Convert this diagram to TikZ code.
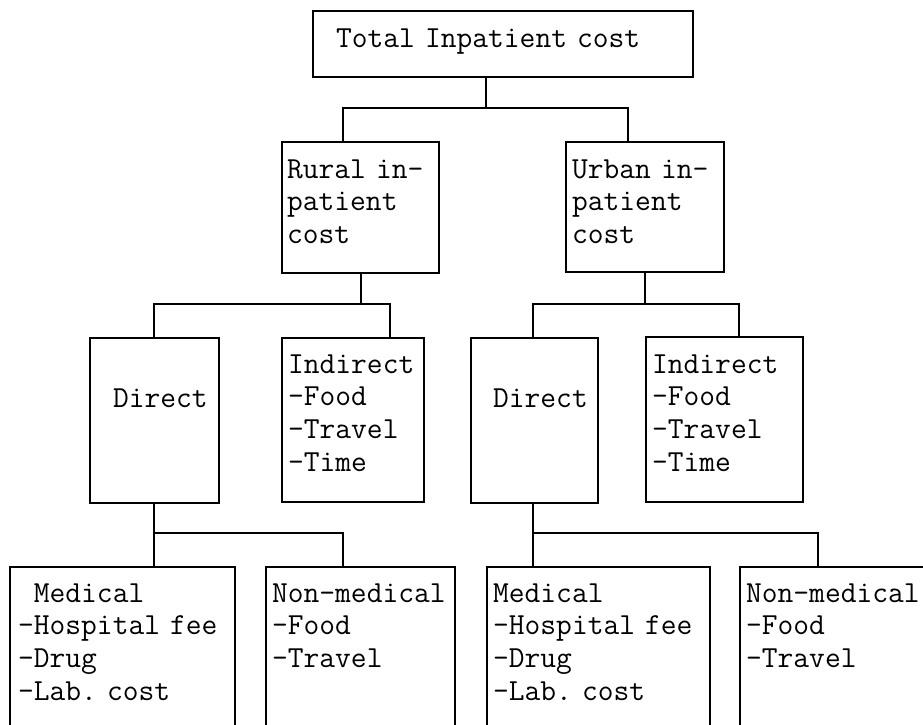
\documentclass[tikz,border=0pt]{standalone}
\usepackage{fontspec}
\usetikzlibrary{calc}
\tikzset{
    costbox/.style={draw, line width=2pt, anchor=north west, inner sep=0pt},
    costtext/.style={anchor=base west, align=left, inner sep=0pt, text width=340pt,
        font=\ttfamily\frenchspacing\fontsize{30.6}{32.8}\selectfont},
    branch/.style={line width=2pt}
}
\begin{document}
\begin{tikzpicture}[x=1pt,y=1pt]
    \useasboundingbox (0,0) rectangle (923,-724);
    \clip (0,0) rectangle (923,-724);

    % Boxes: top-left corner and size, in pixels of the scan
    \node[costbox, minimum width=380, minimum height=66]  (total) at (312,-10)  {};
    \node[costbox, minimum width=157, minimum height=131] (rural) at (281,-141) {};
    \node[costbox, minimum width=158, minimum height=130] (urban) at (565,-141) {};
    \node[costbox, minimum width=129, minimum height=165] (dirR)  at (89,-337)  {};
    \node[costbox, minimum width=142, minimum height=164] (indR)  at (281,-337) {};
    \node[costbox, minimum width=127, minimum height=165] (dirU)  at (470,-337) {};
    \node[costbox, minimum width=157, minimum height=165] (indU)  at (645,-336) {};
    \node[costbox, minimum width=225, minimum height=200] (medR)  at (9,-566)   {};
    \node[costbox, minimum width=189, minimum height=200] (nonR)  at (265,-566) {};
    \node[costbox, minimum width=223, minimum height=200] (medU)  at (486,-566) {};
    \node[costbox, minimum width=200, minimum height=200] (nonU)  at (739,-566) {};

    % Texts, placed from each box's top-left corner
    \node[costtext] (totalT) at ($(total.north west)+(24,-37)$) {Total Inpatient cost};
    \node[costtext] (ruralT) at ($(rural.north west)+(6,-37)$)  {Rural in-\\patient\\cost};
    \node[costtext] (urbanT) at ($(urban.north west)+(7,-37)$)  {Urban in-\\patient\\cost};
    \node[costtext] (dirRT)  at ($(dirR.north west)+(24,-70)$)  {Direct};
    \node[costtext] (indRT)  at ($(indR.north west)+(7,-36)$)   {Indirect\\-Food\\-Travel\\-Time};
    \node[costtext] (dirUT)  at ($(dirU.north west)+(23,-70)$)  {Direct};
    \node[costtext] (indUT)  at ($(indU.north west)+(7,-37)$)   {Indirect\\-Food\\-Travel\\-Time};
    \node[costtext] (medRT)  at ($(medR.north west)+(9,-36)$)   {\hphantom{-}Medical\\-Hospital fee\\-Drug\\-Lab. cost};
    \node[costtext] (nonRT)  at ($(nonR.north west)+(7,-36)$)   {Non-medical\\-Food\\-Travel};
    \node[costtext] (medUT)  at ($(medU.north west)+(7,-36)$)   {Medical\\-Hospital fee\\-Drug\\-Lab. cost};
    \node[costtext] (nonUT)  at ($(nonU.north west)+(7,-36)$)   {Non-medical\\-Food\\-Travel};

    % Bar points of the tree
    \coordinate (topBar)  at (486,-108);
    \coordinate (topBarL) at (343,-108);
    \coordinate (topBarR) at (628,-108);
    \coordinate (ruBarL)  at (154,-304);
    \coordinate (ruBarR)  at (390,-304);
    \coordinate (urBarL)  at (533,-304);
    \coordinate (urBarR)  at (739,-304);
    \coordinate (drBarL)  at (154,-533);
    \coordinate (drBarR)  at (343,-533);
    \coordinate (duBarL)  at (533,-533);
    \coordinate (duBarR)  at (818,-533);

    % Connectors
    \draw[branch] (total.south -| topBar) -- (topBar);
    \draw[branch] (rural.north -| topBarL) -- (topBarL) -- (topBarR) -- (urban.north -| topBarR);

    \draw[branch] (rural.south) -- (rural.south |- ruBarL);
    \draw[branch] (dirR.north -| ruBarL) -- (ruBarL) -- (ruBarR) -- (indR.north -| ruBarR);
    \draw[branch] (urban.south) -- (urban.south |- urBarL);
    \draw[branch] (dirU.north -| urBarL) -- (urBarL) -- (urBarR) -- (indU.north -| urBarR);

    \draw[branch] (dirR.south -| drBarL) -- (drBarL);
    \draw[branch] (medR.north -| drBarL) -- (drBarL) -- (drBarR) -- (nonR.north -| drBarR);
    \draw[branch] (dirU.south -| duBarL) -- (duBarL);
    \draw[branch] (medU.north -| duBarL) -- (duBarL) -- (duBarR) -- (nonU.north -| duBarR);
\end{tikzpicture}
\end{document}
